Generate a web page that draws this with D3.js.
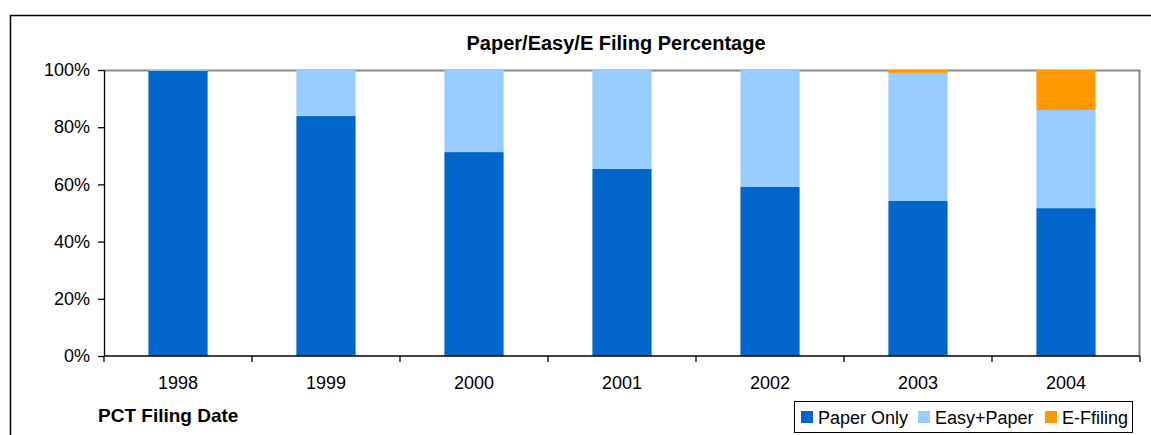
<!DOCTYPE html>
<html>
<head>
<meta charset="utf-8">
<script src="https://cdn.jsdelivr.net/npm/d3@7"></script>
<style>
  body { margin:0; background:#fff; }
  svg text { font-family: "Liberation Sans", Arial, sans-serif; fill:#000; }
</style>
</head>
<body>
<div id="plot"></div>
<script>
// chart data
var years = ["1998","1999","2000","2001","2002","2003","2004"];
var paperOnly = [99.7, 83.9, 71.3, 65.4, 59.1, 54.2, 51.7];
var easyPaper = [0.3, 16.1, 28.7, 34.6, 40.9, 44.8, 34.3];
var eFiling   = [0, 0, 0, 0, 0, 1.0, 14.0];
var seriesNames = ["Paper Only", "Easy+Paper", "E-Ffiling"];
var yTicks = [0, 20, 40, 60, 80, 100];

var colors = ["#0066cc", "#99ccff", "#ff9900"];

var W = 1151, H = 435;
var margin = {t:70, r:11, b:79, l:104};
var width = W - margin.l - margin.r,
    height = H - margin.t - margin.b;

var svg = d3.select('#plot').append('svg')
    .attr('width', W).attr('height', H);

// outer chart border
svg.append('rect')
    .attr('x', 10.5).attr('y', 15.5)
    .attr('width', W + 20).attr('height', H + 20)
    .attr('fill', 'none').attr('stroke', '#000').attr('stroke-width', 1.5);

var plot = svg.append('g')
    .attr('transform', 'translate(' + margin.l + ',' + margin.t + ')');

var x = d3.scaleBand().domain(years).range([0, width]).paddingInner(0.6).paddingOuter(0.3);
var xb = d3.scaleBand().domain(years).range([0, width]);
var y = d3.scaleLinear().domain([0, 100]).range([height, 0]);

// plot area border (gray top/right)
plot.append('path')
    .attr('d', 'M0,0.5H' + (width - 0.5) + 'V' + height)
    .attr('fill', 'none').attr('stroke', '#888').attr('stroke-width', 2);

var table = years.map(function(d, i){
    return {year:d, "Paper Only":paperOnly[i], "Easy+Paper":easyPaper[i], "E-Ffiling":eFiling[i]};
});
var stacked = d3.stack().keys(seriesNames)(table);

plot.selectAll('.series')
    .data(stacked)
    .enter().append('g')
    .attr('class', 'series')
    .attr('fill', function(d, i){ return colors[i]; })
    .selectAll('rect')
    .data(function(d){ return d; })
    .enter().append('rect')
    .attr('x', function(d){ return x(d.data.year); })
    .attr('width', x.bandwidth())
    .attr('y', function(d){ return y(d[1]); })
    .attr('height', function(d){ return y(d[0]) - y(d[1]); });

// y axis
var yAxis = plot.append('g')
    .call(d3.axisLeft(y).tickValues(yTicks).tickFormat(function(d){ return d + '%'; })
        .tickSize(6).tickSizeOuter(0).tickPadding(8));
yAxis.selectAll('text').style('font-size', '18px');
yAxis.selectAll('line, path').attr('stroke', '#000').attr('stroke-width', 1.3);

// x axis, ticks between categories
var xAxis = plot.append('g').attr('transform', 'translate(0,' + height + ')');
xAxis.append('line').attr('x1', 0).attr('x2', width).attr('stroke', '#000').attr('stroke-width', 1.3);
xAxis.selectAll('.tk')
    .data(years.concat(['end']))
    .enter().append('line')
    .attr('x1', function(d, i){ return i < years.length ? xb(d) : width; })
    .attr('x2', function(d, i){ return i < years.length ? xb(d) : width; })
    .attr('y1', 0).attr('y2', 6)
    .attr('stroke', '#000').attr('stroke-width', 1.3);
xAxis.selectAll('.lbl')
    .data(years)
    .enter().append('text')
    .attr('x', function(d){ return xb(d) + xb.bandwidth() / 2; })
    .attr('y', 33)
    .attr('text-anchor', 'middle')
    .style('font-size', '18px')
    .text(function(d){ return d; });

// title
svg.append('text')
    .attr('x', 616).attr('y', 50)
    .attr('text-anchor', 'middle')
    .style('font-size', '20px').style('font-weight', 'bold')
    .text('Paper/Easy/E Filing Percentage');

// x axis title
svg.append('text')
    .attr('x', 98).attr('y', 422)
    .style('font-size', '19px').style('font-weight', 'bold')
    .text('PCT Filing Date');

// legend
var lg = svg.append('g').attr('transform', 'translate(794,401)');
lg.append('rect').attr('x', 0.5).attr('y', 0.5).attr('width', 338).attr('height', 31)
    .attr('fill', '#fff').attr('stroke', '#000').attr('stroke-width', 1);
var lx = [7, 124, 251];
var items = lg.selectAll('.item').data(seriesNames).enter().append('g')
    .attr('transform', function(d, i){ return 'translate(' + lx[i] + ',0)'; });
items.append('rect').attr('x', 0).attr('y', 10).attr('width', 12).attr('height', 12)
    .attr('fill', function(d, i){ return colors[i]; });
items.append('text').attr('x', 17).attr('y', 23).style('font-size', '18px')
    .text(function(d){ return d; });
</script>
</body>
</html>
